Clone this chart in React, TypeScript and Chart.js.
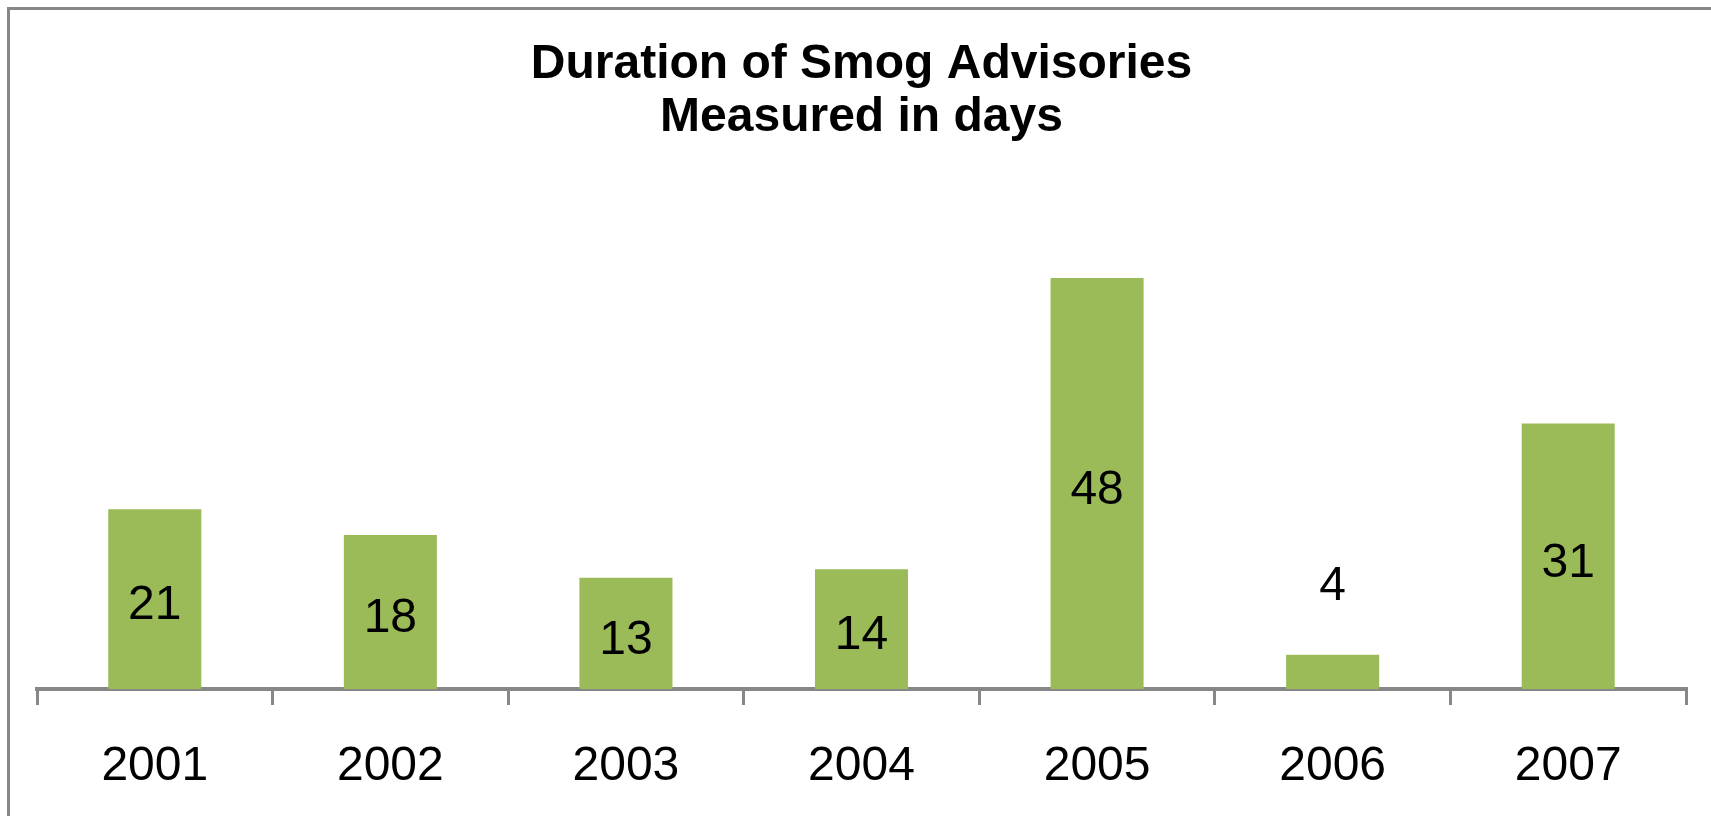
import React, { useEffect, useRef } from "react";
import { Chart, registerables } from "chart.js";

Chart.register(...registerables);

const categories = ["2001", "2002", "2003", "2004", "2005", "2006", "2007"];
const durationDays = [21, 18, 13, 14, 48, 4, 31];
const titleLines = ["Duration of Smog Advisories", "Measured in days"];

const FONT = "'Liberation Sans', Arial, Helvetica, sans-serif";
const GRAY = "#878787";
const GREEN = "#9BBB59";

const valueLabels = {
  id: "valueLabels",
  afterDatasetsDraw(chart: any) {
    const ctx = chart.ctx;
    const meta = chart.getDatasetMeta(0);
    const data = chart.data.datasets[0].data as number[];
    ctx.save();
    ctx.font = `48px ${FONT}`;
    ctx.fillStyle = "#000000";
    ctx.textAlign = "center";
    ctx.textBaseline = "middle";
    meta.data.forEach((bar: any, i: number) => {
      const { x, y, base } = bar.getProps(["x", "y", "base"], true);
      const h = base - y;
      let ly = (y + base) / 2 + 7;
      if (h < 60) ly = y - 68;
      ctx.fillText(String(data[i]), x, ly);
    });
    ctx.restore();
  },
};

export default function App() {
  const ref = useRef<HTMLCanvasElement>(null);
  useEffect(() => {
    if (!ref.current) return;
    const chart = new Chart(ref.current, {
      type: "bar",
      data: {
        labels: categories,
        datasets: [
          {
            data: durationDays,
            backgroundColor: GREEN,
            borderWidth: 0,
            barPercentage: 0.395,
            categoryPercentage: 1,
          },
        ],
      },
      options: {
        responsive: false,
        animation: false,
        devicePixelRatio: 1,
        layout: { padding: { left: 27, right: 26, top: 0, bottom: 11 } },
        plugins: {
          legend: { display: false },
          tooltip: { enabled: false },
          title: {
            display: true,
            text: titleLines,
            color: "#000000",
            font: { family: FONT, size: 48, weight: "bold", lineHeight: 1.1 },
            padding: { top: 28.6, bottom: 77.3 },
          },
        },
        scales: {
          x: {
            grid: {
              display: true,
              drawOnChartArea: false,
              drawTicks: true,
              tickLength: 16,
              color: GRAY,
              lineWidth: 3,
              offset: true,
            },
            border: { display: true, color: GRAY, width: 4 },
            ticks: {
              color: "#000000",
              font: { family: FONT, size: 48, lineHeight: 1.2 },
              padding: 33.2,
              maxRotation: 0,
            },
          },
          y: {
            display: false,
            min: 0,
            max: 54.6,
          },
        },
      },
      plugins: [valueLabels],
    });
    return () => chart.destroy();
  }, []);

  return (
    <div
      style={{
        position: "fixed",
        left: 0,
        top: 0,
        width: 1711,
        height: 816,
        overflow: "hidden",
        background: "#ffffff",
      }}
    >
      <div
        style={{
          position: "absolute",
          left: 7,
          top: 7,
          width: 1702,
          height: 830,
          border: `3px solid ${GRAY}`,
          background: "#ffffff",
        }}
      >
        <canvas
          ref={ref}
          width={1702}
          height={830}
          style={{ display: "block", width: 1702, height: 830 }}
        />
      </div>
    </div>
  );
}
